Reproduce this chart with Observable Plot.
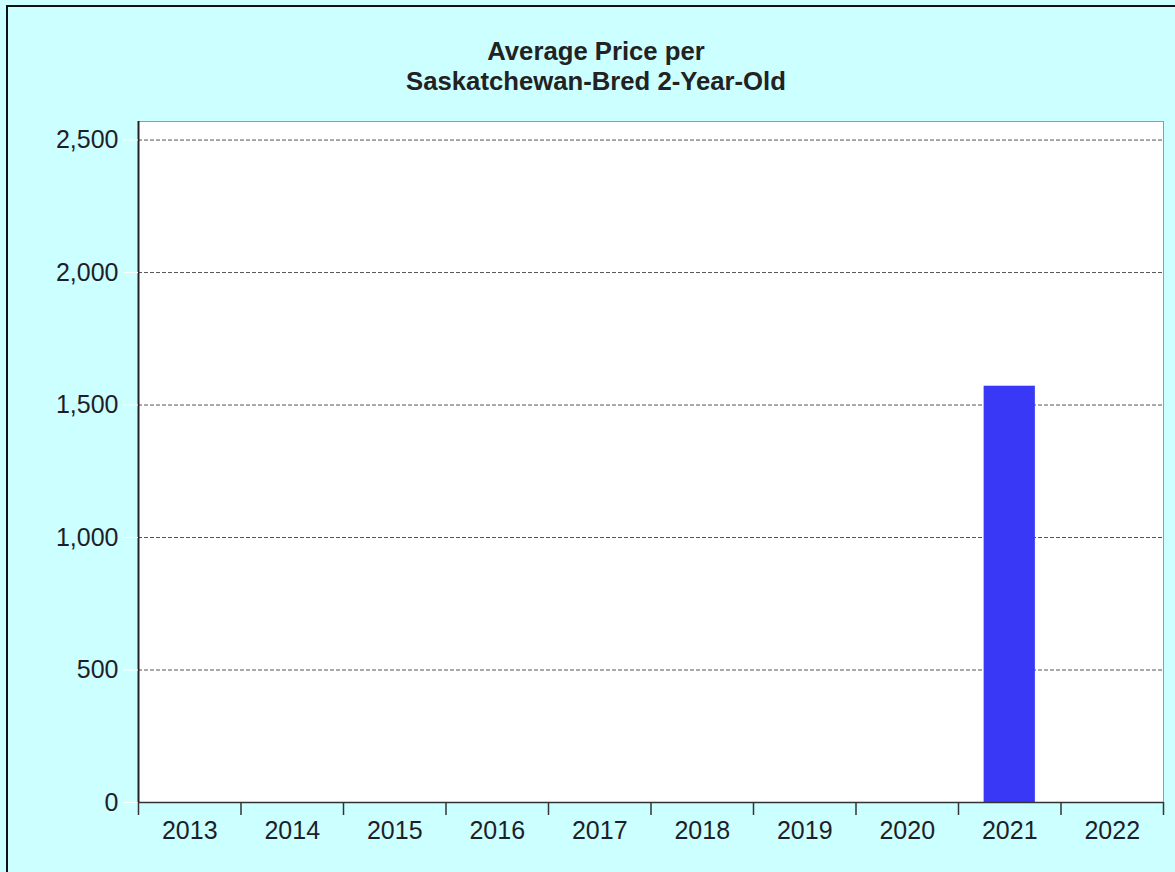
<!DOCTYPE html>
<html>
<head>
<meta charset="utf-8">
<script src="https://cdn.jsdelivr.net/npm/d3@7"></script>
<script src="https://cdn.jsdelivr.net/npm/@observablehq/plot@0.6"></script>
<style>
  html, body { margin: 0; padding: 0; overflow: hidden; background: #CCFFFF; }
  #page { position: relative; width: 1175px; height: 872px; background: #CCFFFF; overflow: hidden; font-family: "Liberation Sans", Arial, sans-serif; }
  #border { position: absolute; left: 6px; top: 5px; width: 1300px; height: 1000px; border-left: 2px solid #111; border-top: 2px solid #111; }
  #title { position: absolute; left: 0; top: 36px; width: 1192px; text-align: center; font-weight: bold; font-size: 25.7px; line-height: 30px; color: #222; }
  #chart { position: absolute; left: 0; top: 100px; }
</style>
</head>
<body>
<div id="page">
  <div id="border"></div>
  <div id="title">Average Price per<br>Saskatchewan-Bred 2-Year-Old</div>
  <div id="chart"></div>
</div>
<script>
const years = ["2013", "2014", "2015", "2016", "2017", "2018", "2019", "2020", "2021", "2022"];
const values = [null, null, null, null, null, null, null, null, 1571, null];
const yTicks = [0, 500, 1000, 1500, 2000, 2500];
const yMax = 2570;

const data = years.map((year, i) => ({year, value: values[i]})).filter(d => d.value != null);
const half = 1025 / years.length / 2;
const fontSize = 25;

const chart = Plot.plot({
  width: 1175,
  height: 772,
  marginLeft: 138,
  marginRight: 12,
  marginTop: 21,
  marginBottom: 70,
  style: { background: "transparent", fontFamily: "Liberation Sans, Arial, sans-serif", fontSize: fontSize + "px", color: "#222" },
  x: { domain: years, paddingInner: 0.5, paddingOuter: 0.25, round: false, label: null },
  y: { domain: [0, yMax], label: null },
  marks: [
    Plot.frame({ fill: "white", stroke: "#999" }),
    Plot.gridY(yTicks, { stroke: "#555", strokeOpacity: 1, strokeDasharray: "4,2" }),
    Plot.barY(data, { x: "year", y: "value", fill: "#3838F6" }),
    Plot.ruleY([0], { stroke: "#333", strokeWidth: 1.5 }),
    Plot.ruleX([years[0]], { dx: -half, stroke: "#222", strokeWidth: 2 }),
    Plot.axisY({ ticks: yTicks, tickFormat: d3.format(","), tickSize: 15, tickPadding: 5, stroke: "white", fill: "#1e1e28", fontSize, label: null }),
    Plot.axisX({ tickSize: 0, tickPadding: 19, fill: "#1e1e28", fontSize, label: null }),
    Plot.axisX({ tickSize: 13, tickFormat: () => "", dx: -half, stroke: "#333", strokeWidth: 1.5, label: null }),
    Plot.axisX({ ticks: [years[years.length - 1]], tickSize: 13, tickFormat: () => "", dx: half, stroke: "#333", strokeWidth: 1.5, label: null })
  ]
});
document.getElementById("chart").appendChild(chart);
</script>
</body>
</html>
